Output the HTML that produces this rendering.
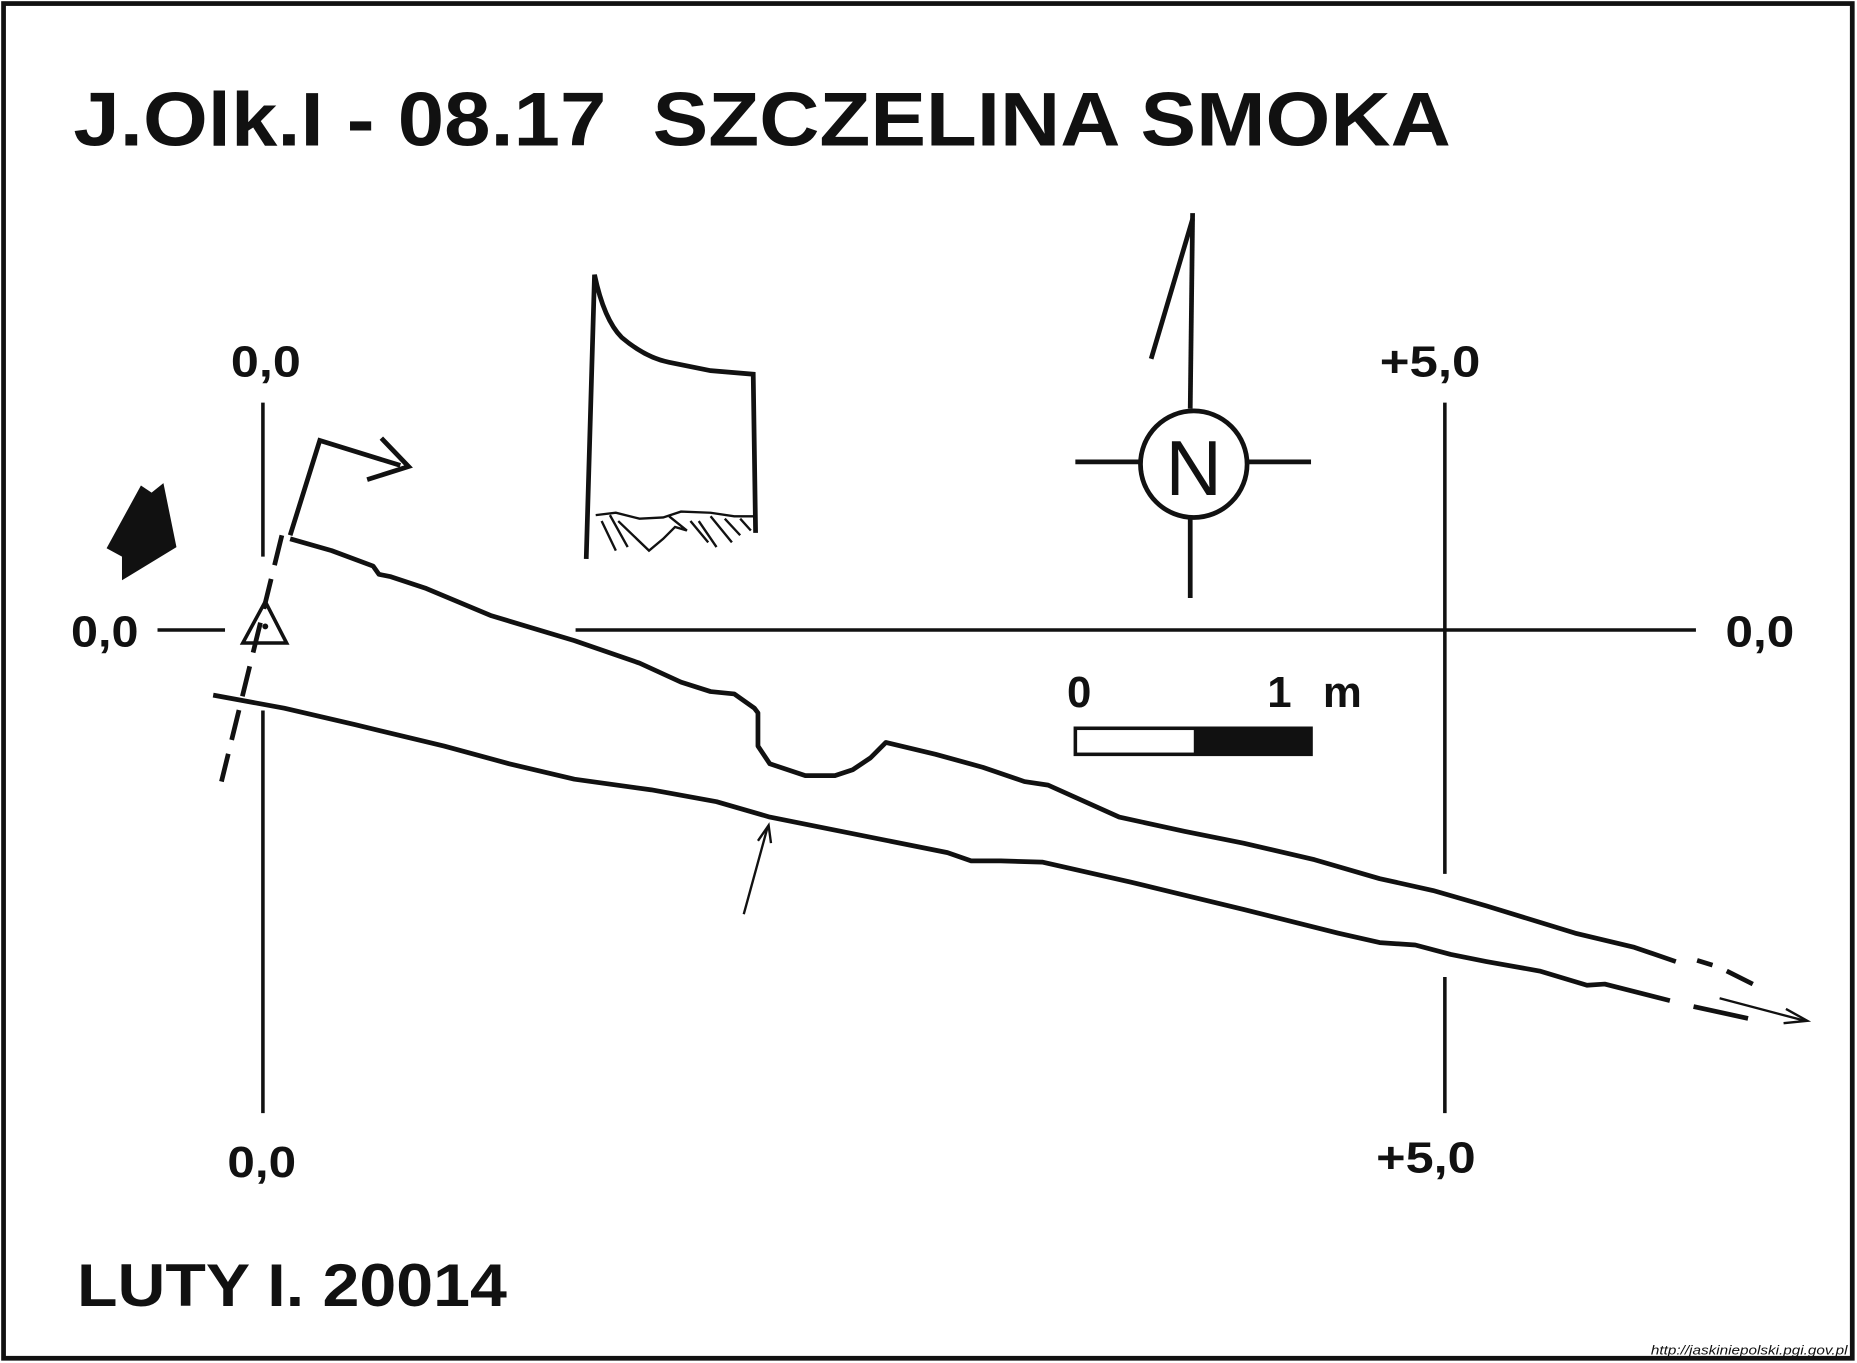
<!DOCTYPE html>
<html><head><meta charset="utf-8"><style>
html,body{margin:0;padding:0;background:#fff;}
svg{display:block;}
text{font-family:"Liberation Sans",sans-serif;font-weight:bold;fill:#111;}
</style></head><body>
<svg width="1857" height="1363" viewBox="0 0 1568 1151" preserveAspectRatio="none" xmlns="http://www.w3.org/2000/svg">
<rect x="3" y="3" width="1561" height="1144" fill="#fff" stroke="#111" stroke-width="4"/>
<text x="62" y="123" font-size="64" textLength="1163" lengthAdjust="spacingAndGlyphs">J.Olk.I - 08.17&#160; SZCZELINA SMOKA</text>

<g stroke="#111" stroke-width="3" fill="none">
<line x1="222" y1="340" x2="222" y2="470"/>
<line x1="222" y1="600" x2="222" y2="940"/>
<line x1="133" y1="532" x2="190" y2="532"/>
<line x1="486" y1="532" x2="1432" y2="532"/>
<line x1="1220" y1="340" x2="1220" y2="738"/>
<line x1="1220" y1="825" x2="1220" y2="940"/>
</g>
<g font-size="37">
<text x="195" y="318" textLength="59" lengthAdjust="spacingAndGlyphs">0,0</text>
<text x="1165" y="318" textLength="85" lengthAdjust="spacingAndGlyphs">+5,0</text>
<text x="60" y="546" textLength="57" lengthAdjust="spacingAndGlyphs">0,0</text>
<text x="1457" y="546" textLength="58" lengthAdjust="spacingAndGlyphs">0,0</text>
<text x="192" y="994" textLength="58" lengthAdjust="spacingAndGlyphs">0,0</text>
<text x="1162" y="990" textLength="84" lengthAdjust="spacingAndGlyphs">+5,0</text>
</g>

<g stroke="#111" stroke-width="4" fill="none" stroke-linejoin="round">
<polyline points="245,455 280,465 315,478 320,485 330,487 360,497 415,520 485,541 540,560 575,576 600,584 620,586 637,598 640,602 640,630 650,645 680,655 705,655 720,650 735,640 748,627 790,637 830,648 865,660 885,663 945,690 1000,702 1050,712 1110,726 1165,742 1210,752 1255,765 1330,788 1380,800 1415,812"/>
<line x1="1433" y1="811" x2="1446" y2="815"/>
<line x1="1458" y1="820" x2="1480" y2="831"/>
<polyline points="180,587 240,598 300,612 375,630 430,645 485,658 550,667 605,677 650,690 700,700 800,720 820,727 845,727 880,728 955,745 1050,768 1130,788 1165,796 1195,798 1225,806 1255,812 1300,820 1340,832 1355,831 1410,845"/>
<line x1="1430" y1="850" x2="1476" y2="860"/>
<line x1="238" y1="452" x2="187" y2="660" stroke-dasharray="26,12"/>
</g>
<g stroke="#111" fill="none">
<polyline points="245,452 270,372 338,393" stroke-width="4"/>
<polyline points="310,405 345,394 322,370" stroke-width="4"/>
<line x1="1452" y1="843" x2="1524" y2="862" stroke-width="2"/>
<polyline points="1508,852 1526,862 1506,864" stroke-width="2"/>
<line x1="628" y1="772" x2="648" y2="699" stroke-width="2"/>
<polyline points="640,710 649,697 651,712" stroke-width="2"/>
</g>
<polygon points="103,490 149,462 138,408 128,416 119,410 90,463 103,470" fill="#111"/>
<g>
<polygon points="224,508 242,543 205,543" fill="none" stroke="#111" stroke-width="3"/>
<circle cx="224" cy="529" r="2.5" fill="#111"/>
</g>

<g stroke="#111" fill="none" stroke-width="4">
<path d="M495,472 L502,232 Q510,270 525,285 Q545,302 565,306 L600,313 L636,316 L638,450"/>
<path d="M503,435 L520,433 L540,438 L560,437 L575,432 L600,433 L620,436 L636,436" stroke-width="2"/>
<path d="M508,440 L520,465 M515,435 L530,462 M522,440 L548,465 L560,455 L570,445 L580,448 L565,436 M590,440 L605,462 M600,436 L618,458 M612,438 L625,452 M583,440 L598,458 M625,438 L634,448" stroke-width="2"/>
</g>

<g stroke="#111" stroke-width="4" fill="none">
<circle cx="1008" cy="392" r="45"/>
<line x1="908" y1="390" x2="962" y2="390"/>
<line x1="1053" y1="390" x2="1107" y2="390"/>
<line x1="1005" y1="437" x2="1005" y2="505"/>
<line x1="1005" y1="345" x2="1007" y2="180"/>
<line x1="1007" y1="185" x2="972" y2="303"/>
</g>
<text x="1008" y="418" font-size="66" text-anchor="middle" style="font-weight:normal">N</text>

<g>
<rect x="908" y="615" width="199" height="22" fill="#fff" stroke="#111" stroke-width="3"/>
<rect x="1008" y="615" width="99" height="22" fill="#111"/>
<text x="901" y="597" font-size="37">0</text>
<text x="1070" y="597" font-size="37">1</text>
<text x="1117" y="597" font-size="37">m</text>
</g>

<text x="65" y="1103" font-size="51" textLength="363" lengthAdjust="spacingAndGlyphs">LUTY I. 20014</text>
<text x="1394" y="1144" font-size="11" style="font-weight:normal;font-style:italic" textLength="166" lengthAdjust="spacingAndGlyphs">http://jaskiniepolski.pgi.gov.pl</text>
</svg>
</body></html>
